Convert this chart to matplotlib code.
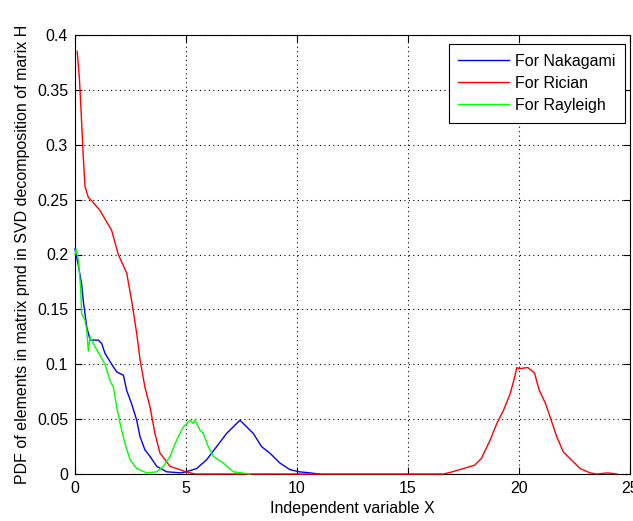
import matplotlib
matplotlib.use("Agg")
import matplotlib.pyplot as plt

plt.rcParams['font.family'] = ['Liberation Sans', 'DejaVu Sans']

# Nakagami (blue)
nak_x = [0.0, 0.05, 0.15, 0.3, 0.37, 0.53, 0.68, 1.05, 1.2, 1.35, 1.65, 1.88, 2.18, 2.33, 2.55,
         2.78, 2.93, 3.15, 3.38, 3.68, 4.13, 4.8, 5.0, 5.48, 5.93, 6.38, 6.83, 7.13, 7.43, 7.73,
         8.03, 8.4, 8.78, 9.23, 9.68, 10.1, 10.6, 11.0]
nak_y = [0.205, 0.2, 0.19, 0.173, 0.158, 0.134, 0.122, 0.122, 0.119, 0.11, 0.1, 0.093, 0.09, 0.076, 0.064,
         0.049, 0.034, 0.022, 0.016, 0.007, 0.002, 0.001, 0.002, 0.005, 0.013, 0.025, 0.037, 0.043, 0.049, 0.043,
         0.037, 0.025, 0.019, 0.01, 0.004, 0.002, 0.001, 0.0]

# Rician (red)
ric_x = [0.1, 0.2, 0.3, 0.37, 0.45, 0.6, 0.75, 1.13, 1.65, 1.95, 2.33, 2.55, 2.78, 2.93, 3.15, 3.38,
         3.6, 3.83, 4.28, 5.0, 5.4, 16.6, 17.0, 17.5, 18.0, 18.3, 18.7, 19.0, 19.3, 19.6, 19.8,
         19.9, 20.0, 20.4, 20.7, 20.9, 21.2, 21.5, 21.7, 22.0, 22.45, 22.75, 23.2, 23.5, 24.0, 24.4]
ric_y = [0.385, 0.36, 0.32, 0.29, 0.262, 0.252, 0.249, 0.24, 0.222, 0.2, 0.183, 0.158, 0.128, 0.104, 0.079, 0.061,
         0.037, 0.019, 0.007, 0.002, 0.0, 0.0, 0.002, 0.005, 0.008, 0.014, 0.031, 0.046, 0.058, 0.073, 0.088,
         0.097, 0.096, 0.097, 0.092, 0.077, 0.064, 0.046, 0.034, 0.02, 0.011, 0.005, 0.001, 0.0, 0.001, 0.0]

# Rayleigh (green)
ray_x = [0.0, 0.05, 0.15, 0.25, 0.3, 0.45, 0.53, 0.6, 0.68, 0.9, 1.13, 1.35, 1.58, 1.73, 1.88,
         2.03, 2.25, 2.48, 2.78, 3.23, 3.68, 3.98, 4.28, 4.58, 4.88, 5.18, 5.33, 5.4, 5.63, 5.78,
         6.0, 6.23, 6.68, 7.13, 7.88]
ray_y = [0.2, 0.205, 0.195, 0.17, 0.146, 0.14, 0.131, 0.112, 0.125, 0.116, 0.108, 0.1, 0.085, 0.079, 0.061,
         0.046, 0.028, 0.013, 0.005, 0.001, 0.002, 0.007, 0.016, 0.031, 0.043, 0.049, 0.046, 0.049, 0.04, 0.037,
         0.025, 0.016, 0.01, 0.002, 0.0]

labels = ['For Nakagami', 'For Rician', 'For Rayleigh']
xticks = [0, 5, 10, 15, 20, 25]
yticks = [0, 0.05, 0.1, 0.15, 0.2, 0.25, 0.3, 0.35, 0.4]
yticklabels = ['0', '0.05', '0.1', '0.15', '0.2', '0.25', '0.3', '0.35', '0.4']

FS = 11.5

fig = plt.figure(figsize=(6.33, 5.21), dpi=100)
ax = fig.add_axes([75/633, 47/521, 555/633, 439/521])

ax.plot(nak_x, nak_y, color=(0, 0, 1), lw=1.0, label=labels[0], zorder=3, clip_on=False)
ax.plot(ric_x, ric_y, color=(1, 0, 0), lw=1.0, label=labels[1], zorder=3, clip_on=False)
ax.plot(ray_x, ray_y, color=(0, 1, 0), lw=1.0, label=labels[2], zorder=3, clip_on=False)

ax.set_xlim(0, 25)
ax.set_ylim(0, 0.4)
ax.set_xticks(xticks)
ax.set_xticklabels([str(t) for t in xticks])
ax.set_yticks(yticks)
ax.set_yticklabels(yticklabels)
ax.tick_params(direction='in', length=5, width=0.8, top=True, right=True,
               labelsize=FS, colors='black', pad=5)
ax.grid(True, linestyle=(0, (1, 3)), color='black', linewidth=0.8)
for s in ax.spines.values():
    s.set_linewidth(0.8)
    s.set_zorder(2)

ax.set_xlabel('Independent variable X', fontsize=FS, labelpad=4)
ax.set_ylabel('PDF of elements in matrix pmd in SVD decomposition of marix H', fontsize=FS, labelpad=5)

leg = ax.legend(loc='upper right', bbox_to_anchor=(0.991, 0.9795), fancybox=False,
                framealpha=1, edgecolor='black', fontsize=FS, handlelength=3.2,
                handletextpad=0.35, borderaxespad=0.0, labelspacing=0.45, borderpad=0.6)
leg.get_frame().set_linewidth(0.8)

fig.savefig('out.png', dpi=100)
